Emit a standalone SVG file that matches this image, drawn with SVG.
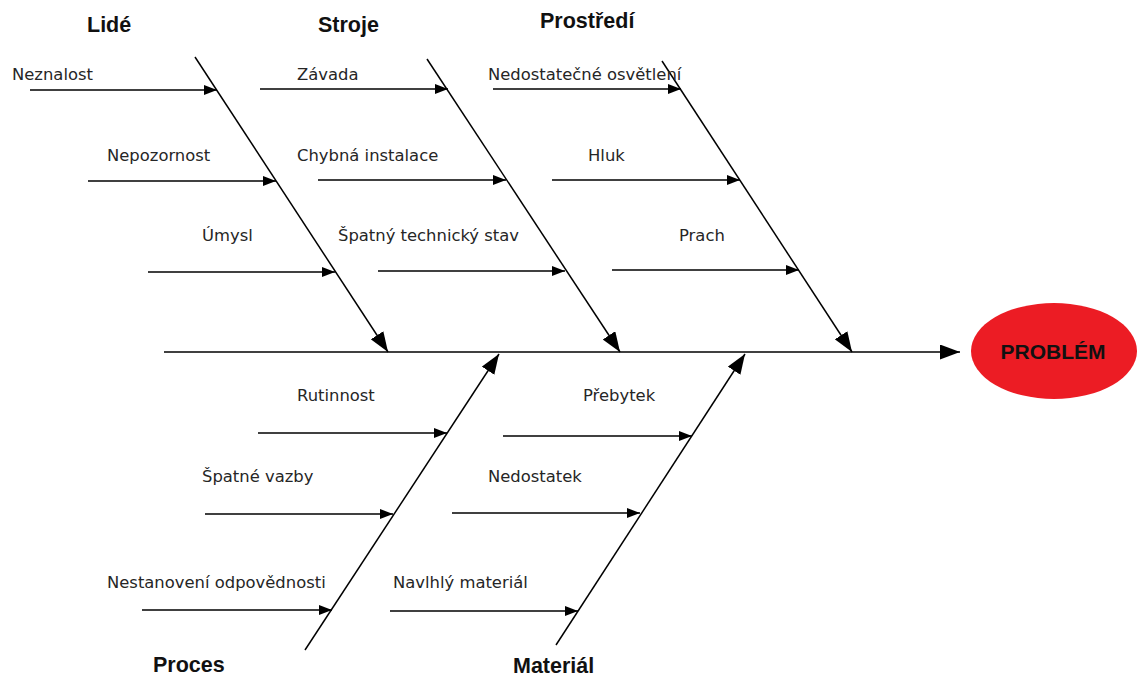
<svg xmlns="http://www.w3.org/2000/svg" width="1140" height="679" viewBox="0 0 1140 679">
<defs>
<marker id="big" markerUnits="userSpaceOnUse" markerWidth="22" markerHeight="16" refX="20" refY="7.5" orient="auto"><path d="M0,0 L20,7.5 L0,15 Z" fill="#000"/></marker>
<marker id="small" markerUnits="userSpaceOnUse" markerWidth="14" markerHeight="11" refX="13" refY="5" orient="auto"><path d="M0,0 L13,5 L0,10 Z" fill="#000"/></marker>
</defs>
<style>
.ln{stroke:#000;stroke-width:1.5;fill:none}
.bone{marker-end:url(#big)}
.sub{marker-end:url(#small)}
.lbl{font-family:"DejaVu Sans",sans-serif;font-size:16.4px;fill:#262626}
.cat{font-family:"Liberation Sans",Arial,sans-serif;font-size:21.5px;font-weight:bold;fill:#111}
.prob{font-family:"Liberation Sans",Arial,sans-serif;font-size:21px;font-weight:bold;fill:#111}
</style>
<g id="connectors">
<line class="ln bone" x1="164" y1="352" x2="960" y2="352"/>
<line class="ln bone" x1="195" y1="57" x2="388" y2="352"/>
<line class="ln bone" x1="427" y1="59" x2="620" y2="352"/>
<line class="ln bone" x1="662" y1="61" x2="852" y2="352"/>
<line class="ln bone" x1="305" y1="650" x2="499" y2="354"/>
<line class="ln bone" x1="556" y1="645" x2="745" y2="354"/>
<line class="ln sub" x1="30" y1="90" x2="217" y2="90"/>
<line class="ln sub" x1="88" y1="181" x2="276" y2="181"/>
<line class="ln sub" x1="148" y1="272" x2="335" y2="272"/>
<line class="ln sub" x1="260" y1="89" x2="448" y2="89"/>
<line class="ln sub" x1="318" y1="180" x2="506" y2="180"/>
<line class="ln sub" x1="378" y1="271" x2="565" y2="271"/>
<line class="ln sub" x1="493" y1="89" x2="681" y2="89"/>
<line class="ln sub" x1="552" y1="180" x2="740" y2="180"/>
<line class="ln sub" x1="612" y1="270" x2="799" y2="270"/>
<line class="ln sub" x1="258" y1="433" x2="447" y2="433"/>
<line class="ln sub" x1="205" y1="514" x2="393" y2="514"/>
<line class="ln sub" x1="142" y1="610" x2="332" y2="610"/>
<line class="ln sub" x1="503" y1="436" x2="692" y2="436"/>
<line class="ln sub" x1="452" y1="513" x2="640" y2="513"/>
<line class="ln sub" x1="390" y1="611" x2="578" y2="611"/>
</g>
<g id="problem">
<ellipse cx="1054" cy="351" rx="83" ry="48" fill="#ec1c24"/>
<text class="prob" x="1053" y="359" text-anchor="middle">PROBLÉM</text>
</g>
<g id="cat-lide"><text class="cat" x="87" y="32">Lidé</text></g>
<g id="cat-stroje"><text class="cat" x="318" y="32">Stroje</text></g>
<g id="cat-prostredi"><text class="cat" x="540" y="28">Prostředí</text></g>
<g id="cat-proces"><text class="cat" x="153" y="672">Proces</text></g>
<g id="cat-material"><text class="cat" x="513" y="673">Materiál</text></g>
<g id="c-neznalost"><text class="lbl" x="12" y="80">Neznalost</text></g>
<g id="c-nepozornost"><text class="lbl" x="107" y="161">Nepozornost</text></g>
<g id="c-umysl"><text class="lbl" x="202" y="241">Úmysl</text></g>
<g id="c-zavada"><text class="lbl" x="297" y="80">Závada</text></g>
<g id="c-chybna"><text class="lbl" x="297" y="161">Chybná instalace</text></g>
<g id="c-spatny"><text class="lbl" x="338" y="241">Špatný technický stav</text></g>
<g id="c-osvetleni"><text class="lbl" x="488" y="80">Nedostatečné osvětlení</text></g>
<g id="c-hluk"><text class="lbl" x="588" y="161">Hluk</text></g>
<g id="c-prach"><text class="lbl" x="679" y="241">Prach</text></g>
<g id="c-rutinnost"><text class="lbl" x="297" y="401">Rutinnost</text></g>
<g id="c-vazby"><text class="lbl" x="202" y="482">Špatné vazby</text></g>
<g id="c-odpovednost"><text class="lbl" x="107" y="588">Nestanovení odpovědnosti</text></g>
<g id="c-prebytek"><text class="lbl" x="583" y="401">Přebytek</text></g>
<g id="c-nedostatek"><text class="lbl" x="488" y="482">Nedostatek</text></g>
<g id="c-navlhly"><text class="lbl" x="393" y="588">Navlhlý materiál</text></g>
</svg>
